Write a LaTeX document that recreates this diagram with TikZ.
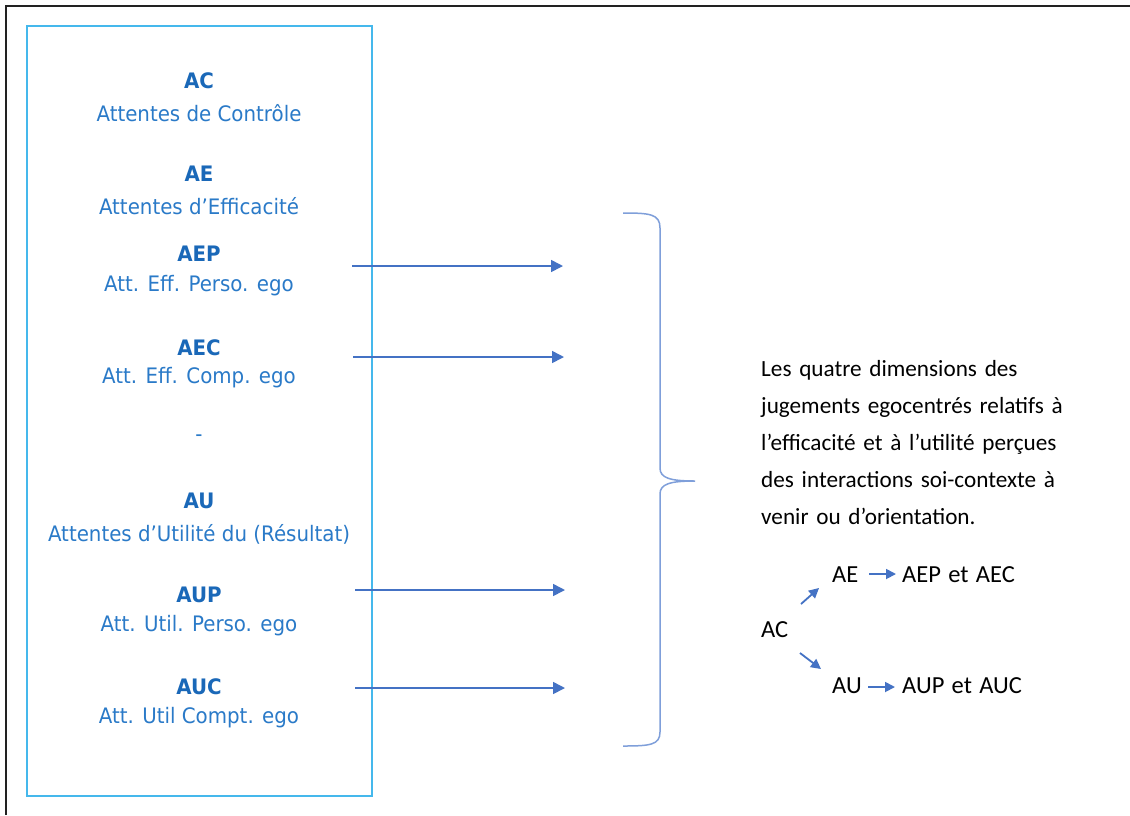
\documentclass[tikz,border=0pt]{standalone}
\usepackage{fontspec}
\setmainfont{Carlito}
\newfontfamily\leftfont{DejaVu Sans}[FakeStretch=0.93]
\usetikzlibrary{arrows.meta}
\definecolor{boxblue}{HTML}{45B8EC}
\definecolor{txtblue}{HTML}{2A7AC8}
\definecolor{boldblue}{HTML}{1A68B8}
\definecolor{arrblue}{HTML}{4472C4}
\definecolor{braceblue}{HTML}{7F9FDA}
\definecolor{frame}{HTML}{222222}
\tikzset{
  lbl/.style={font=\leftfont\fontsize{21.3}{24}\selectfont, text=txtblue, align=center, inner sep=0pt},
  ttl/.style={font=\leftfont\bfseries\fontsize{21.3}{24}\selectfont, text=boldblue, inner sep=0pt},
  conn/.style={draw=arrblue, line width=1.6pt, -{Triangle[length=12pt,width=12pt]}},
  sconn/.style={draw=arrblue, line width=1.8pt, -{Triangle[length=10pt,width=10pt]}},
  rtxt/.style={font=\fontsize{23.2}{37}\selectfont, text=black, inner sep=0pt},
  stxt/.style={font=\fontsize{24.5}{28}\selectfont, text=black, inner sep=0pt},
}
\begin{document}
\begin{tikzpicture}[x=1pt,y=-1pt]
\useasboundingbox (0,0) rectangle (1130,815);
\fill[white] (0,0) rectangle (1130,815);
\draw[frame, line width=2.2pt] (6,815) -- (6,6) -- (1130,6);
\draw[boxblue, line width=1.3pt] (27,26) rectangle (372,796);

\node[ttl] (tAC) at (199,81) {AC};
\node[lbl] (lAC) at (199,113) {Attentes de Contrôle};
\node[ttl] (tAE) at (199,174) {AE};
\node[lbl] (lAE) at (199,206) {Attentes d’Efficacité};
\node[ttl] (tAEP) at (199,254) {AEP};
\node[lbl] (lAEP) at (199,286) {Att. Eff. Perso. ego};
\node[ttl] (tAEC) at (199,348) {AEC};
\node[lbl] (lAEC) at (199,378) {Att. Eff. Comp. ego};
\node[lbl] (dash) at (199,438) {-};
\node[ttl] (tAU) at (199,501) {AU};
\node[lbl] (lAU) at (199,534) {Attentes d’Utilité du (Résultat)};
\node[ttl] (tAUP) at (199,595) {AUP};
\node[lbl] (lAUP) at (199,626) {Att. Util. Perso. ego};
\node[ttl] (tAUC) at (199,687) {AUC};
\node[lbl] (lAUC) at (199,718) {Att. Util Compt. ego};

\coordinate (s1) at (352,266); \coordinate (e1) at (563,266);
\coordinate (s2) at (353,357); \coordinate (e2) at (564,357);
\coordinate (s3) at (355,590); \coordinate (e3) at (565,590);
\coordinate (s4) at (355,688); \coordinate (e4) at (565,688);
\draw[conn] (s1) -- (e1);
\draw[conn] (s2) -- (e2);
\draw[conn] (s3) -- (e3);
\draw[conn] (s4) -- (e4);

\draw[braceblue, line width=1.5pt]
  (623,213) .. controls (650,213) and (660,214) .. (660,228)
  -- (660,468) .. controls (660,478) and (670,481) .. (695,481)
  .. controls (670,481) and (660,484) .. (660,494)
  -- (660,732) .. controls (660,745) and (650,746) .. (623,746);

\node[rtxt, anchor=north west, align=left, text width=340pt] (para) at (761,360)
 {Les quatre dimensions des\\ jugements egocentrés relatifs à\\ l’efficacité et à l’utilité perçues\\ des interactions soi-contexte à\\ venir ou d’orientation.};

\node[stxt, anchor=west] (sAE) at (832,575) {AE};
\node[stxt, anchor=west] (sAEP) at (902,575) {AEP\hspace{0.3em}et\hspace{0.3em}AEC};
\node[stxt, anchor=west] (sAC) at (761,630) {AC};
\node[stxt, anchor=west] (sAU) at (832,686) {AU};
\node[stxt, anchor=west] (sAUP) at (902,686) {AUP\hspace{0.3em}et\hspace{0.3em}AUC};
\coordinate (a1s) at (869,574); \coordinate (a1e) at (896,574);
\coordinate (a2s) at (868,687); \coordinate (a2e) at (895,687);
\coordinate (d1s) at (801,604); \coordinate (d1e) at (819,588);
\coordinate (d2s) at (800,653); \coordinate (d2e) at (821,669);
\draw[sconn] (a1s) -- (a1e);
\draw[sconn] (a2s) -- (a2e);
\draw[sconn] (d1s) -- (d1e);
\draw[sconn] (d2s) -- (d2e);
\end{tikzpicture}
\end{document}
